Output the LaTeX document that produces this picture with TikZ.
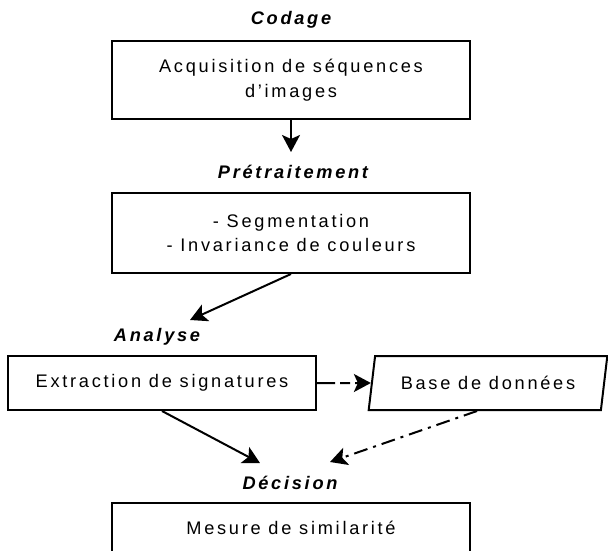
\documentclass[tikz,border=0pt]{standalone}
\usepackage{fontspec}
\setmainfont{Liberation Sans}[LetterSpace=15]
\usetikzlibrary{arrows.meta,shapes.geometric}

\tikzset{
  etape/.style={font=\fontsize{9.1}{12.4}\selectfont\bfseries\itshape},
  boite/.style={rectangle, draw, line width=1pt, align=center,
    font=\fontsize{9.1}{12.4}\selectfont, inner sep=0pt},
  fleche/.style={line width=1pt, -{Stealth[length=8.5pt,width=9pt,inset=2pt]}}
}

\begin{document}
\begin{tikzpicture}[x=0.5pt,y=-0.5pt]
    \clip (0,0) rectangle (608,550);
    % Etapes
    \node[etape] (codage) at (291,20) {Codage};
    \node[boite, minimum width=179pt, minimum height=39pt] (acq) at (291,80)
        {Acquisition de séquences\\d'images};

    \node[etape] (pretr) at (293,172) {Prétraitement};
    \node[boite, minimum width=179pt, minimum height=40pt] (seg) at (291,233)
        {- Segmentation\\- Invariance de couleurs};

    \node[etape] (analyse) at (157,337) {Analyse};
    \node[boite, minimum width=154pt, minimum height=27pt] (extr) at (162,383)
        {Extraction de signatures};
    \node[boite, trapezium, trapezium left angle=70, trapezium right angle=110,
        trapezium stretches=true, minimum width=120pt, minimum height=27pt] (base) at (488,383)
        {Base de données};

    \node[etape] (decision) at (290,483) {Décision};
    \node[boite, minimum width=179pt, minimum height=40pt, anchor=north] (mesure) at (291,502)
        {};
    \node[font=\fontsize{9.1}{12.4}\selectfont] (mesuretxt) at (291,528) {Mesure de similarité};

    % Fleches
    \coordinate (p1) at (291,152);
    \coordinate (p2) at (190,320);
    \coordinate (p3) at (260,463);
    \coordinate (p4) at (330,462);
    \draw[fleche] (acq.south) -- (p1);
    \draw[fleche] (seg.south) -- (p2);
    \draw[fleche] (extr.south) -- (p3);
    \draw[fleche, dash pattern=on 9pt off 2.5pt on 5pt off 2.5pt] (extr.east) -- (base.west);
    \draw[fleche, dash pattern=on 7pt off 3pt on 1.5pt off 3pt] ([xshift=-5.5pt]base.south) -- (p4);
\end{tikzpicture}
\end{document}
